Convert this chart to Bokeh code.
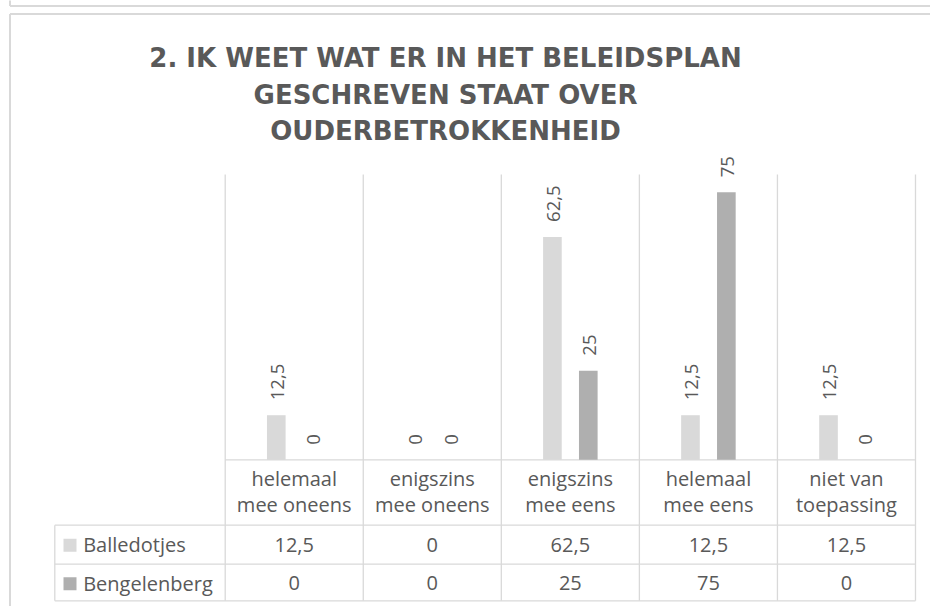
import numpy as np
from bokeh.plotting import figure
from bokeh.models import ColumnDataSource, LabelSet, Range1d
from bokeh.embed import file_html
from bokeh.resources import INLINE
from bokeh.core.properties import value

# ---------------- data ----------------
title_lines = ["2. IK WEET WAT ER IN HET BELEIDSPLAN",
               "GESCHREVEN STAAT OVER",
               "OUDERBETROKKENHEID"]
categories = ["helemaal mee oneens", "enigszins mee oneens", "enigszins mee eens",
              "helemaal mee eens", "niet van toepassing"]
category_lines = [["helemaal", "mee oneens"], ["enigszins", "mee oneens"],
                  ["enigszins", "mee eens"], ["helemaal", "mee eens"],
                  ["niet van", "toepassing"]]
series_names = ["Balledotjes", "Bengelenberg"]
balledotjes = [12.5, 0, 62.5, 12.5, 12.5]
bengelenberg = [0, 0, 25, 75, 0]
y_max = 80

# ---------------- layout (page pixels) ----------------
W, H = 930, 606
X0, CW = 224.7, 138.06          # plot left edge, category width
Y0, YTOP = 459.3, 174.0         # baseline, top of plot area
PPU = (Y0 - YTOP) / y_max


def fx(px):
    return (px - X0) / CW


def fy(py):
    return (Y0 - py) / PPU


GRID = "#d9d9d9"
TXT = "#595959"
C1, C2 = "#d9d9d9", "#afafaf"
FONT = value("Open Sans")


def fmt(v):
    return f"{v:g}".replace(".", ",")


p = figure(width=W, height=H, x_range=Range1d(fx(0), fx(W)),
           y_range=Range1d(fy(H), fy(0)), output_backend="svg",
           toolbar_location=None, x_axis_type=None, y_axis_type=None,
           min_border=0, outline_line_color=None)
p.background_fill_color = "white"
p.border_fill_color = "white"

n = len(categories)
centers = np.arange(n) + 0.5
dodge = 0.13
bw = 0.135

# previous chart's bottom edge (top strip) and outer chart border
p.segment(x0=[fx(9.5), fx(9.5), fx(9.5), fx(9.5)],
          y0=[fy(5.5), fy(-5), fy(13.5), fy(13.5)],
          x1=[fx(940), fx(9.5), fx(9.5), fx(940)],
          y1=[fy(5.5), fy(5.5), fy(620), fy(13.5)],
          line_color=GRID, line_width=2)

# vertical gridlines / table column lines
p.segment(x0=list(range(n + 1)), x1=list(range(n + 1)),
          y0=[y_max] * (n + 1), y1=[fy(600.3)] * (n + 1),
          line_color=GRID, line_width=1.3)
# table horizontal lines
p.segment(x0=[0, fx(54.3), fx(54.3), fx(54.3)], x1=[n] * 4,
          y0=[0, fy(524.7), fy(563.7), fy(600.3)],
          y1=[0, fy(524.7), fy(563.7), fy(600.3)],
          line_color=GRID, line_width=1.3)
# table left border
p.segment(x0=[fx(54.3)], x1=[fx(54.3)], y0=[fy(524.7)], y1=[fy(600.3)],
          line_color=GRID, line_width=1.3)

# bars
src1 = ColumnDataSource(dict(x=centers - dodge, top=balledotjes,
                             label=[fmt(v) for v in balledotjes]))
src2 = ColumnDataSource(dict(x=centers + dodge, top=bengelenberg,
                             label=[fmt(v) for v in bengelenberg]))
p.vbar(x="x", top="top", bottom=0, width=bw, source=src1,
       fill_color=C1, line_color=None)
p.vbar(x="x", top="top", bottom=0, width=bw, source=src2,
       fill_color=C2, line_color=None)

for src in (src1, src2):
    p.add_layout(LabelSet(x="x", y="top", text="label", source=src,
                          angle=90, angle_units="deg", text_align="left",
                          text_baseline="middle", y_offset=15, x_offset=1,
                          text_font=FONT, text_font_size="18.5px",
                          text_color=TXT))

# title
p.text(x=[fx(445)] * 3, y=[fy(57.5), fy(94), fy(130.5)], text=title_lines,
       text_align="center", text_baseline="alphabetic",
       text_font=value("DejaVu Sans"), text_font_style="bold",
       text_font_size="26px", text_color=TXT)

# category labels (table header)
cx, cy, ct = [], [], []
for i, lines in enumerate(category_lines):
    for j, t in enumerate(lines):
        cx.append(centers[i])
        cy.append(fy(477.5 + 26.5 * j))
        ct.append(t)
p.text(x=cx, y=cy, text=ct, text_align="center", text_baseline="alphabetic",
       text_font=FONT, text_font_size="20px", text_color=TXT)

# table rows
row_base = [544.3, 582.5]
sq_bottom = [551.3, 589.7]
p.quad(left=[fx(63)] * 2, right=[fx(76)] * 2,
       bottom=[fy(b) for b in sq_bottom], top=[fy(b - 13) for b in sq_bottom],
       fill_color=[C1, C2], line_color=None)
p.text(x=[fx(82.7)] * 2, y=[fy(b) for b in row_base], text=series_names,
       text_align="left", text_baseline="alphabetic",
       text_font=FONT, text_font_size="20px", text_color=TXT)
vx, vy, vt = [], [], []
for r, vals in enumerate([balledotjes, bengelenberg]):
    for i, v in enumerate(vals):
        vx.append(centers[i])
        vy.append(fy(row_base[r]))
        vt.append(fmt(v))
p.text(x=vx, y=vy, text=vt, text_align="center", text_baseline="alphabetic",
       text_font=FONT, text_font_size="20px", text_color=TXT)

open("out.html", "w").write(file_html(p, INLINE))
